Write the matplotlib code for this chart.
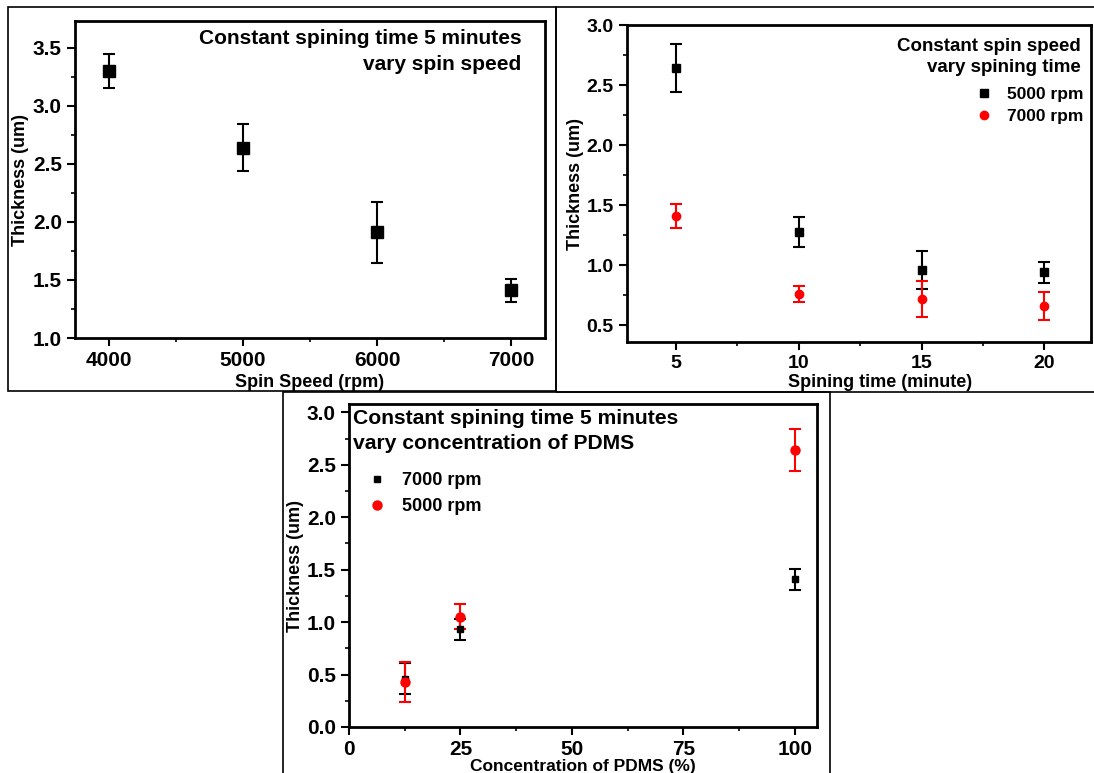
import matplotlib
matplotlib.use("Agg")
import matplotlib.pyplot as plt
from matplotlib.patches import Rectangle
from matplotlib.ticker import AutoMinorLocator

plt.rcParams['font.family'] = ['Liberation Sans', 'DejaVu Sans']
plt.rcParams['font.weight'] = 'bold'

# panel 1: thickness vs spin speed (5 min)
speed = [4000, 5000, 6000, 7000]
speed_thk = [3.30, 2.64, 1.91, 1.41]
speed_err = [0.15, 0.20, 0.26, 0.10]

# panel 2: thickness vs spinning time
spin_time = [5, 10, 15, 20]
time_thk_5000 = [2.64, 1.28, 0.96, 0.94]
time_err_5000 = [0.20, 0.125, 0.155, 0.09]
time_thk_7000 = [1.41, 0.76, 0.72, 0.66]
time_err_7000 = [0.10, 0.07, 0.15, 0.12]

# panel 3: thickness vs PDMS concentration
conc = [12.5, 25, 100]
conc_thk_7000 = [0.46, 0.93, 1.41]
conc_err_7000 = [0.15, 0.10, 0.10]
conc_thk_5000 = [0.43, 1.05, 2.64]
conc_err_5000 = [0.19, 0.12, 0.20]

W, H = 1094, 773
fig = plt.figure(figsize=(W / 100, H / 100), dpi=100)


def box(x0, y0, x1, y1):
    # panel frame given in pixels (top-left origin)
    fig.patches.append(Rectangle((x0 / W, 1 - y1 / H), (x1 - x0) / W, (y1 - y0) / H,
                                 transform=fig.transFigure, fill=False,
                                 edgecolor='black', linewidth=1.2))


def add_ax(x0, y0, x1, y1, lsize=15):
    ax = fig.add_axes([x0 / W, 1 - y1 / H, (x1 - x0) / W, (y1 - y0) / H])
    for s in ax.spines.values():
        s.set_linewidth(2)
    ax.xaxis.set_minor_locator(AutoMinorLocator(2))
    ax.yaxis.set_minor_locator(AutoMinorLocator(2))
    ax.tick_params(which='major', direction='out', length=6, width=1.5, labelsize=lsize)
    ax.tick_params(which='minor', direction='out', length=3, width=1.2)
    ax.tick_params(top=False, right=False)
    return ax


ebkw = dict(linestyle='none', elinewidth=1.5, capsize=4, capthick=1.5)

box(8, 7, 556, 391)
box(556, 7, 1110, 392)
box(283, 392, 830, 790)

# ---- panel 1
ax1 = add_ax(75, 21, 545, 338)
ax1.errorbar(speed, speed_thk, yerr=speed_err, fmt='s', color='black', ms=9, **ebkw)
ax1.set_xlim(3750, 7250)
ax1.set_ylim(1.0, 3.73)
ax1.set_xticks([4000, 5000, 6000, 7000])
ax1.set_yticks([1.0, 1.5, 2.0, 2.5, 3.0, 3.5])
ax1.set_xlabel('Spin Speed (rpm)', fontsize=13, fontweight='bold', labelpad=3)
ax1.set_ylabel('Thickness (um)', fontsize=13, fontweight='bold')
ax1.yaxis.set_label_coords(-0.098, 0.5)
ax1.text(0.95, 0.975, 'Constant spining time 5 minutes\nvary spin speed', transform=ax1.transAxes,
         ha='right', va='top', fontsize=15, fontweight='bold', linespacing=1.5)

# ---- panel 2
ax2 = add_ax(627, 25, 1091, 342, lsize=14)
ax2.errorbar(spin_time, time_thk_5000, yerr=time_err_5000, fmt='s', color='black', ms=5.5,
             label='5000 rpm', **ebkw)
ax2.errorbar(spin_time, time_thk_7000, yerr=time_err_7000, fmt='o', color='red', ms=6,
             label='7000 rpm', **ebkw)
ax2.set_xlim(3, 21.9)
ax2.set_ylim(0.36, 3.0)
ax2.set_xticks([5, 10, 15, 20])
ax2.set_yticks([0.5, 1.0, 1.5, 2.0, 2.5, 3.0])
ax2.set_xlabel('Spining time (minute)', fontsize=13, fontweight='bold', labelpad=1)
ax2.xaxis.label.set_x(0.545)
ax2.set_ylabel('Thickness (um)', fontsize=13, fontweight='bold')
ax2.yaxis.set_label_coords(-0.093, 0.5)
ax2.text(0.977, 0.96, 'Constant spin speed\nvary spining time', transform=ax2.transAxes,
         ha='right', va='top', fontsize=13.5, fontweight='bold', linespacing=1.35)
h, l = ax2.get_legend_handles_labels()
ax2.legend([x[0] for x in h], l, loc='upper left', bbox_to_anchor=(0.718, 0.855),
           frameon=False, handlelength=1.0, handletextpad=0.8, labelspacing=0.4,
           prop={'size': 12.5, 'weight': 'bold'})

# ---- panel 3
ax3 = add_ax(349, 404, 817, 727)
ax3.errorbar(conc, conc_thk_7000, yerr=conc_err_7000, fmt='s', color='black', ms=5,
             label='7000 rpm', **ebkw)
ax3.errorbar(conc, conc_thk_5000, yerr=conc_err_5000, fmt='o', color='red', ms=6.5,
             label='5000 rpm', **ebkw)
ax3.set_xlim(0, 105)
ax3.set_ylim(0, 3.08)
ax3.set_xticks([0, 25, 50, 75, 100])
ax3.set_yticks([0.0, 0.5, 1.0, 1.5, 2.0, 2.5, 3.0])
ax3.set_xlabel('Concentration of PDMS (%)', fontsize=12.5, fontweight='bold', labelpad=-0.5)
ax3.set_ylabel('Thickness (um)', fontsize=13, fontweight='bold')
ax3.yaxis.set_label_coords(-0.096, 0.5)
ax3.text(0.008, 0.985, 'Constant spining time 5 minutes\nvary concentration of PDMS',
         transform=ax3.transAxes, ha='left', va='top', fontsize=15.2, fontweight='bold',
         linespacing=1.4)
h, l = ax3.get_legend_handles_labels()
ax3.legend([x[0] for x in h], l, loc='upper left', bbox_to_anchor=(0.005, 0.84),
           frameon=False, handlelength=1.0, handletextpad=0.9, labelspacing=0.5,
           prop={'size': 13, 'weight': 'bold'})

fig.savefig('out.png', dpi=100)
